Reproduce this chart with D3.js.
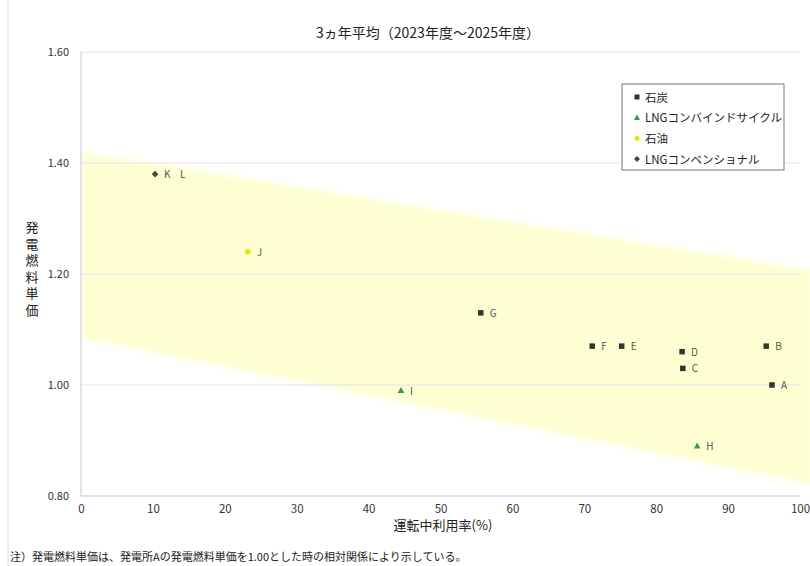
<!DOCTYPE html>
<html><head><meta charset="utf-8">
<script src="https://cdn.jsdelivr.net/npm/d3@7"></script>
<style>
body{margin:0;background:#fff;}
text{font-family:"Noto Sans CJK JP","Noto Sans",sans-serif;}
</style></head><body>
<svg id="c" width="810" height="566"></svg>
<script>
// ---- data ----
const seriesNames = ["石炭", "LNGコンバインドサイクル", "石油", "LNGコンベンショナル"];
const seriesColors = ["#333333", "#2e9a4a", "#e6e600", "#444444"];
const seriesShapes = ["square", "triangle", "circle", "diamond"];
const coalLabels = ["A", "B", "C", "D", "E", "F", "G"];
const coalX = [96.1, 95.3, 83.7, 83.6, 75.2, 71.1, 55.6];
const coalY = [1.00, 1.07, 1.03, 1.06, 1.07, 1.07, 1.13];
const lngccLabels = ["H", "I"];
const lngccX = [85.7, 44.5];
const lngccY = [0.89, 0.99];
const oilLabels = ["J"];
const oilX = [23.2];
const oilY = [1.24];
const lngconvLabels = ["K", "L"];
const lngconvX = [10.3, 10.3];
const lngconvY = [1.38, 1.38];
const bandUpper = [[0, 1.42], [100, 1.21]];
const bandLower = [[0, 1.085], [100, 0.825]];
const xTicks = [0, 10, 20, 30, 40, 50, 60, 70, 80, 90, 100];
const yTicks = [0.80, 1.00, 1.20, 1.40, 1.60];
const title = "3ヵ年平均（2023年度～2025年度）";
const xTitle = "運転中利用率(%)";
const yTitle = "発電燃料単価";
const note = "注）発電燃料単価は、発電所Aの発電燃料単価を1.00とした時の相対関係により示している。";

const series = [
  {labels: coalLabels, xs: coalX, ys: coalY},
  {labels: lngccLabels, xs: lngccX, ys: lngccY},
  {labels: oilLabels, xs: oilX, ys: oilY},
  {labels: lngconvLabels, xs: lngconvX, ys: lngconvY}
];

// ---- layout ----
const svg = d3.select("#c");
const L = 81, R = 800, T = 52, B = 496;
const x = d3.scaleLinear().domain([0, 100]).range([L, R]);
const y = d3.scaleLinear().domain([0.8, 1.6]).range([B, T]);

// frame line at left
svg.append("line").attr("x1", 8).attr("x2", 8).attr("y1", 0).attr("y2", 566)
  .attr("stroke", "#d8d8d8").attr("stroke-width", 1);

// band
const defs = svg.append("defs");
defs.append("filter").attr("id", "blur").append("feGaussianBlur").attr("stdDeviation", 3);
defs.append("clipPath").attr("id", "clip").append("rect")
  .attr("x", L).attr("y", T).attr("width", 810 - L).attr("height", B - T + 12);
const lineAt = (pts, v) => pts[0][1] + (pts[1][1] - pts[0][1]) * (v - pts[0][0]) / (pts[1][0] - pts[0][0]);
const xEnd = x.invert(812);
const bandPts = [[0, lineAt(bandUpper, 0)], [xEnd, lineAt(bandUpper, xEnd)],
                 [xEnd, lineAt(bandLower, xEnd)], [0, lineAt(bandLower, 0)]];
svg.append("g").attr("clip-path", "url(#clip)").append("path")
  .attr("d", d3.line().x(d => x(d[0])).y(d => y(d[1]))(bandPts) + "Z")
  .attr("fill", "#fefed2").attr("filter", "url(#blur)");

// gridlines
svg.append("g").selectAll("line").data(yTicks).join("line")
  .attr("x1", L).attr("x2", R).attr("y1", d => y(d)).attr("y2", d => y(d))
  .attr("stroke", d => d === 0.8 ? "#b9b9e6" : "#e2e2ee").attr("stroke-width", 1);
svg.append("line").attr("x1", L).attr("x2", L).attr("y1", T).attr("y2", B)
  .attr("stroke", "#c8c8d0");

// axes
const yAxis = svg.append("g").attr("transform", `translate(${L},0)`)
  .call(d3.axisLeft(y).tickValues(yTicks).tickFormat(d3.format(".2f")).tickSize(0).tickPadding(12));
yAxis.select(".domain").remove();
yAxis.selectAll("text").attr("font-size", 11).attr("fill", "#333").attr("font-family", "Liberation Sans, Arial, sans-serif");
const xAxis = svg.append("g").attr("transform", `translate(0,${B})`)
  .call(d3.axisBottom(x).tickValues(xTicks).tickFormat(d3.format("d")).tickSize(0).tickPadding(9));
xAxis.select(".domain").remove();
xAxis.selectAll("text").attr("font-size", 11.5).attr("fill", "#333").attr("font-family", "Liberation Sans, Arial, sans-serif");

// titles
svg.append("text").attr("x", 428).attr("y", 38).attr("text-anchor", "middle")
  .attr("font-size", 14).attr("fill", "#222").text(title);
svg.append("text").attr("x", 443).attr("y", 530).attr("text-anchor", "middle")
  .attr("font-size", 13).attr("fill", "#222").text(xTitle);
svg.append("text").attr("x", 32).attr("y", 221)
  .style("writing-mode", "vertical-rl").style("letter-spacing", "3.5px")
  .attr("font-size", 13).attr("fill", "#222").text(yTitle);
svg.append("text").attr("x", 10).attr("y", 561).attr("font-size", 11).attr("fill", "#222").text(note);

// markers
function marker(g, shape, color, cx, cy, s) {
  if (shape === "square") g.append("rect").attr("x", cx - s/2).attr("y", cy - s/2).attr("width", s).attr("height", s).attr("fill", color);
  else if (shape === "triangle") g.append("path").attr("d", `M${cx},${cy - s*0.65}L${cx + s*0.6},${cy + s*0.45}L${cx - s*0.6},${cy + s*0.45}Z`).attr("fill", color);
  else if (shape === "circle") g.append("circle").attr("cx", cx).attr("cy", cy).attr("r", s/2).attr("fill", color);
  else g.append("path").attr("d", `M${cx},${cy - s*0.6}L${cx + s*0.6},${cy}L${cx},${cy + s*0.6}L${cx - s*0.6},${cy}Z`).attr("fill", color);
}
const pg = svg.append("g");
series.forEach((s, si) => {
  const seen = {};
  s.xs.forEach((v, i) => {
    const cx = x(v), cy = y(s.ys[i]);
    const key = cx + "," + cy;
    const k = seen[key] || 0; seen[key] = k + 1;
    if (k === 0) marker(pg, seriesShapes[si], seriesColors[si], cx, cy, 5.5);
    pg.append("text").attr("x", cx + 9 + k * 16).attr("y", cy + 4).attr("font-size", 10)
      .attr("fill", "#555").attr("font-family", "Liberation Sans, Arial, sans-serif").text(s.labels[i]);
  });
});

// legend
const lg = svg.append("g");
lg.append("rect").attr("x", 622).attr("y", 84).attr("width", 162).attr("height", 86)
  .attr("fill", "#fff").attr("stroke", "#777").attr("stroke-width", 1);
seriesNames.forEach((n, i) => {
  const yy = 97 + i * 20.7;
  marker(lg, seriesShapes[i], seriesColors[i], 637, yy, 5);
  lg.append("text").attr("x", 645).attr("y", yy + 4.5).attr("font-size", 11.5)
    .attr("fill", "#222").text(n);
});
</script></body></html>
